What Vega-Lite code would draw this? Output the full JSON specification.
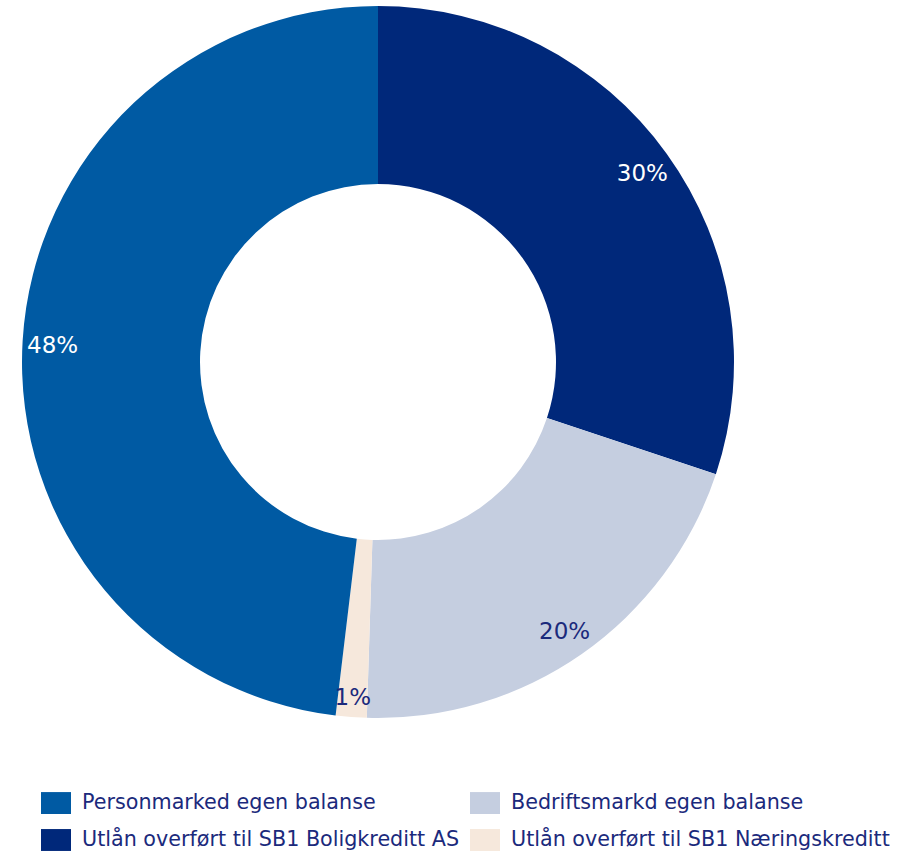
{
  "$schema": "https://vega.github.io/schema/vega-lite/v6.json",
  "width": 756,
  "height": 724,
  "padding": 0,
  "background": "white",
  "view": {"stroke": null},
  "data": {
    "values": [
      {"cat": "Utlån overført til SB1 Boligkreditt AS", "value": 30.1, "label": "30%"},
      {"cat": "Bedriftsmarkd egen balanse", "value": 20.4, "label": "20%"},
      {"cat": "Utlån overført til SB1 Næringskreditt", "value": 1.4, "label": "1%"},
      {"cat": "Personmarked egen balanse", "value": 48.1, "label": "48%"}
    ]
  },
  "transform": [
    {"window": [{"op": "row_number", "as": "idx"}]}
  ],
  "encoding": {
    "theta": {"field": "value", "type": "quantitative", "stack": true},
    "order": {"field": "idx", "type": "quantitative"}
  },
  "layer": [
    {
      "mark": {"type": "arc", "outerRadius": 356, "innerRadius": 178, "stroke": null},
      "encoding": {
        "color": {
          "field": "cat",
          "type": "nominal",
          "scale": {
            "domain": ["Personmarked egen balanse", "Utlån overført til SB1 Boligkreditt AS", "Bedriftsmarkd egen balanse", "Utlån overført til SB1 Næringskreditt"],
            "range": ["#005AA3", "#00287A", "#C5CEE0", "#F6E8DC"]
          },
          "legend": {
            "title": null,
            "orient": "none",
            "legendX": 41,
            "legendY": 788,
            "columns": 2,
            "columnPadding": 10,
            "rowPadding": 11,
            "symbolType": "M-1,-0.73H1V0.73H-1Z",
            "symbolSize": 900,
            "symbolStrokeWidth": 0,
            "labelOffset": 11,
            "labelFont": "DejaVu Sans",
            "labelFontSize": 20.7,
            "labelColor": "#1B2A7C",
            "labelLimit": 600
          }
        }
      }
    },
    {
      "mark": {"type": "text", "font": "DejaVu Sans", "fontSize": 23, "align": "center", "baseline": "middle", "dy": 3, "radius": 326},
      "encoding": {
        "text": {
          "condition": {"test": "datum.cat !== 'Utlån overført til SB1 Næringskreditt'", "field": "label"},
          "value": ""
        },
        "color": {
          "condition": {"test": "datum.cat === 'Bedriftsmarkd egen balanse'", "value": "#1B2A7C"},
          "value": "white"
        }
      }
    },
    {
      "mark": {"type": "text", "font": "DejaVu Sans", "fontSize": 23, "align": "center", "baseline": "middle", "dy": 3, "radius": 334, "color": "#1B2A7C"},
      "encoding": {
        "text": {
          "condition": {"test": "datum.cat === 'Utlån overført til SB1 Næringskreditt'", "field": "label"},
          "value": ""
        }
      }
    }
  ]
}
